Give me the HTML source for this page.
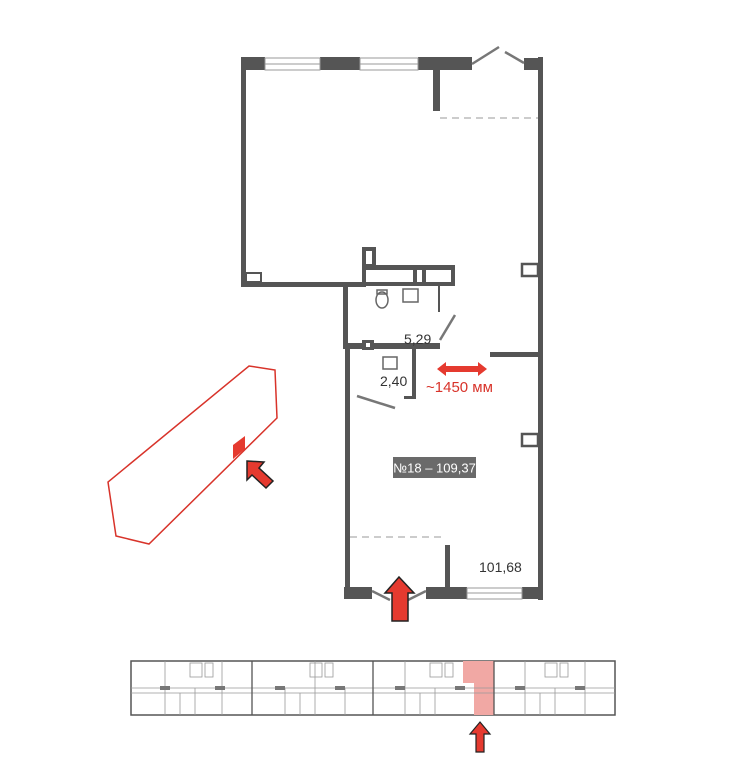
<!DOCTYPE html>
<html><head><meta charset="utf-8"><style>
html,body{margin:0;padding:0;background:#fff;}
svg{display:block;}
text{font-family:"Liberation Sans",sans-serif;}
</style></head><body>
<svg width="734" height="768" viewBox="0 0 734 768" xmlns="http://www.w3.org/2000/svg">
<g fill="#555">
<rect x="241" y="57" width="24" height="13"/>
<rect x="320" y="57" width="40" height="13"/>
<rect x="418" y="57" width="54" height="13"/>
<rect x="524" y="58" width="19" height="12"/>
<rect x="241" y="57" width="5" height="230"/>
<rect x="433" y="68" width="7" height="43"/>
<rect x="538" y="57" width="5" height="543"/>
<rect x="241" y="282" width="125" height="5"/>
<rect x="362" y="247" width="14" height="21"/>
<rect x="362" y="265" width="93" height="21"/>
<rect x="343" y="283" width="5" height="66"/>
<rect x="343" y="343" width="97" height="6"/>
<rect x="362" y="340" width="12" height="10"/>
<rect x="438" y="286" width="2" height="26"/>
<rect x="345" y="349" width="5" height="250"/>
<rect x="412" y="349" width="4" height="50"/>
<rect x="404" y="396" width="12" height="3"/>
<rect x="490" y="352" width="50" height="5"/>
<rect x="445" y="545" width="5" height="44"/>
<rect x="344" y="587" width="28" height="12"/>
<rect x="426" y="587" width="41" height="12"/>
<rect x="522" y="587" width="21" height="12"/>
</g>
<g fill="#fff">
<rect x="366" y="251" width="6" height="13"/>
<rect x="366" y="270" width="47" height="12"/>
<rect x="417" y="270" width="5" height="12"/>
<rect x="426" y="270" width="25" height="12"/>
<rect x="246" y="273" width="15" height="9"/>
<rect x="366" y="343" width="4" height="4"/>
</g>
<rect x="246" y="273" width="15" height="9" fill="none" stroke="#555" stroke-width="2"/>
<rect x="522" y="264" width="16" height="12" fill="none" stroke="#555" stroke-width="2.5"/>
<rect x="522" y="434" width="16" height="12" fill="none" stroke="#555" stroke-width="2.5"/>
<g fill="none" stroke="#999" stroke-width="1">
<rect x="265" y="58" width="55" height="12"/>
<line x1="265" y1="64" x2="320" y2="64"/>
<rect x="360" y="58" width="58" height="12"/>
<line x1="360" y1="64" x2="418" y2="64"/>
<rect x="467" y="588" width="55" height="11"/>
<line x1="467" y1="593" x2="522" y2="593"/>
</g>
<g stroke="#777" stroke-width="2.5">
<line x1="472" y1="64" x2="499" y2="47"/>
<line x1="505" y1="52" x2="524" y2="63"/>
<line x1="440" y1="340" x2="455" y2="315"/>
<line x1="357" y1="396" x2="395" y2="408"/>
<line x1="372" y1="591" x2="390" y2="600"/>
<line x1="426" y1="591" x2="408" y2="600"/>
</g>
<g stroke="#bbb" stroke-width="1.5" stroke-dasharray="7,5">
<line x1="440" y1="118" x2="538" y2="118"/>
<line x1="350" y1="537" x2="445" y2="537"/>
</g>
<g fill="none" stroke="#666" stroke-width="1.5">
<ellipse cx="382" cy="300" rx="6" ry="8"/>
<rect x="377" y="290" width="10" height="4"/>
<rect x="403" y="289" width="15" height="13"/>
<rect x="383" y="357" width="14" height="12"/>
</g>
<text x="404" y="344" font-size="14" fill="#333">5,29</text>
<text x="380" y="386" font-size="14" fill="#333">2,40</text>
<text x="479" y="572" font-size="14" fill="#333">101,68</text>
<rect x="393" y="457" width="83" height="21" fill="#6a6a6a"/>
<text x="434.5" y="472.5" font-size="13" fill="#fff" text-anchor="middle">№18 – 109,37</text>
<path d="M437,369 L446,362 L446,366 L478,366 L478,362 L487,369 L478,376 L478,372 L446,372 L446,376 Z" fill="#e53a2f"/>
<text x="426" y="392" font-size="15" fill="#d8332a">~1450 мм</text>
<polygon points="249,366 275,370 277,418 149,544 116,536 108,482" fill="none" stroke="#d8332a" stroke-width="1.5"/>
<polygon points="233,445 245,436 245,449 233,459" fill="#e53a2f"/>
<path d="M247,461 L264,462 L259,468 L273,481 L266,488 L252,475 L247,480 Z" fill="#e53a2f" stroke="#222" stroke-width="1.5"/>
<path d="M399,577 L414,593 L408,593 L408,621 L392,621 L392,593 L385,593 Z" fill="#e53a2f" stroke="#222" stroke-width="1.5"/>
<g>
<rect x="131" y="661" width="484" height="54" fill="#fff" stroke="#555" stroke-width="1.5"/>
<polygon points="463,661 494,661 494,715 474,715 474,683 463,683" fill="#f1a8a4"/>
<g stroke="#999" stroke-width="0.8" fill="none">
<line x1="131" y1="688" x2="615" y2="688"/>
<line x1="131" y1="693" x2="615" y2="693"/>
<line x1="165" y1="661" x2="165" y2="715"/>
<line x1="195" y1="688" x2="195" y2="715"/>
<line x1="222" y1="661" x2="222" y2="715"/>
<line x1="285" y1="688" x2="285" y2="715"/>
<line x1="315" y1="661" x2="315" y2="715"/>
<line x1="345" y1="688" x2="345" y2="715"/>
<line x1="405" y1="661" x2="405" y2="715"/>
<line x1="435" y1="688" x2="435" y2="715"/>
<line x1="525" y1="661" x2="525" y2="715"/>
<line x1="555" y1="688" x2="555" y2="715"/>
<line x1="585" y1="661" x2="585" y2="715"/>
<line x1="180" y1="693" x2="180" y2="715"/>
<line x1="300" y1="693" x2="300" y2="715"/>
<line x1="420" y1="693" x2="420" y2="715"/>
<line x1="540" y1="693" x2="540" y2="715"/>
<rect x="190" y="663" width="12" height="14"/>
<rect x="205" y="663" width="8" height="14"/>
<rect x="310" y="663" width="12" height="14"/>
<rect x="325" y="663" width="8" height="14"/>
<rect x="430" y="663" width="12" height="14"/>
<rect x="445" y="663" width="8" height="14"/>
<rect x="545" y="663" width="12" height="14"/>
<rect x="560" y="663" width="8" height="14"/>
</g>
<g fill="#777">
<rect x="160" y="686" width="10" height="4"/><rect x="215" y="686" width="10" height="4"/>
<rect x="275" y="686" width="10" height="4"/><rect x="335" y="686" width="10" height="4"/>
<rect x="395" y="686" width="10" height="4"/><rect x="455" y="686" width="10" height="4"/>
<rect x="515" y="686" width="10" height="4"/><rect x="575" y="686" width="10" height="4"/>
</g>
<g stroke="#555" stroke-width="1.3">
<line x1="252" y1="661" x2="252" y2="715"/>
<line x1="373" y1="661" x2="373" y2="715"/>
<line x1="494" y1="661" x2="494" y2="715"/>
</g>
</g>
<path d="M480,722 L490,734 L484,734 L484,752 L476,752 L476,734 L470,734 Z" fill="#e53a2f" stroke="#222" stroke-width="1.2"/>
</svg>
</body></html>
